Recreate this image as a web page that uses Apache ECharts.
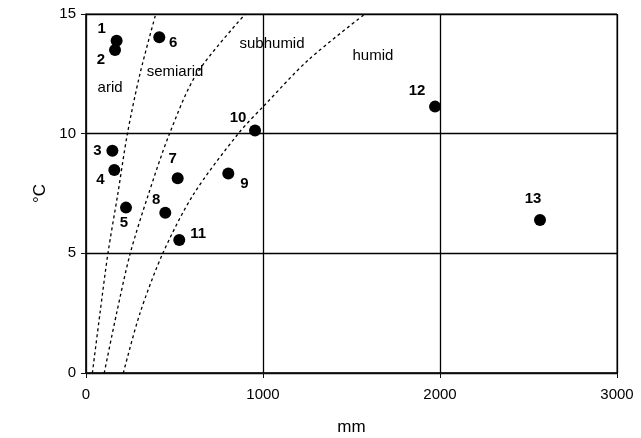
<!DOCTYPE html>
<html>
<head>
<meta charset="utf-8">
<script src="https://cdn.jsdelivr.net/npm/echarts@6/dist/echarts.min.js"></script>
<style>
  html, body { margin: 0; padding: 0; background: #fff; }
  #main { width: 641px; height: 438px; }
</style>
</head>
<body>
<div id="main"></div>
<script>
// site data: precipitation (mm) and temperature (°C)
var siteIds = ['1', '2', '3', '4', '5', '6', '7', '8', '9', '10', '11', '12', '13'];
var sitePrecip = [173, 164, 149, 160, 226, 414, 518, 448, 804, 955, 527, 1972, 2565];
var siteTemp = [13.88, 13.5, 9.29, 8.48, 6.91, 14.03, 8.14, 6.7, 8.34, 10.13, 5.56, 11.13, 6.39];

// aridity boundaries: [mm, °C]
var aridLine = [[36, 0], [79, 2.5], [124, 5], [179, 7.45], [234, 10], [305, 12.5], [394, 15]];
var semiaridLine = [[103, 0], [173, 2.5], [250, 5], [352, 7.45], [472, 10], [625, 12.5], [900, 15]];
var subhumidLine = [[211, 0], [305, 2.5], [434, 5], [606, 7.45], [860, 10], [1010, 11.2], [1256, 13.08], [1576, 15]];

// zone names and where they sit
var zoneNames = ['arid', 'semiarid', 'subhumid', 'humid'];
var zoneAt = [[136, 11.9], [503, 12.6], [1051, 13.75], [1621, 13.25]];

// label offsets for each site number (px)
var labelOffsets = [[-15, -12], [-14, 10], [-15, 0], [-14, 10], [-2, 15], [14, 6], [-5, -19],
    [-9, -13], [16, 10], [-17, -13], [19, -6], [-18, -16], [-7, -21]];

var font = 'Liberation Sans, Arial, sans-serif';

var siteData = [];
for (var i = 0; i < siteIds.length; i++) {
    siteData.push({
        value: [sitePrecip[i], siteTemp[i]],
        name: siteIds[i],
        label: { offset: labelOffsets[i] }
    });
}
var zoneData = [];
for (var j = 0; j < zoneNames.length; j++) {
    zoneData.push({ value: zoneAt[j], name: zoneNames[j] });
}

function dashed(data) {
    return {
        type: 'line',
        data: data,
        smooth: 0.3,
        symbol: 'none',
        silent: true,
        lineStyle: { color: '#000', width: 1.3, type: [3, 3] },
        z: 2
    };
}

var chart = echarts.init(document.getElementById('main'));

var option = {
    animation: false,
    backgroundColor: '#fff',
    grid: {
        left: 86, right: 24, top: 14, bottom: 65,
        outerBoundsMode: 'none',
        show: true, borderColor: '#111', borderWidth: 1
    },
    xAxis: {
        type: 'value', min: 0, max: 3000, interval: 1000,
        name: 'mm', nameLocation: 'middle', nameGap: 46,
        nameTextStyle: { color: '#000', fontSize: 17, fontFamily: font },
        axisLine: { show: true, onZero: false, lineStyle: { color: '#111', width: 1.5 } },
        axisTick: { show: true, length: 5, lineStyle: { color: '#111' } },
        axisLabel: { color: '#000', fontSize: 15, fontFamily: font, margin: 14,
            formatter: function (v) { return String(v); } },
        splitLine: { show: true, lineStyle: { color: '#000', width: 1.3 } }
    },
    yAxis: {
        type: 'value', min: 0, max: 15, interval: 5,
        name: '°C', nameLocation: 'middle', nameGap: 29, nameRotate: 90,
        nameTextStyle: { color: '#000', fontSize: 17, fontFamily: font },
        axisLine: { show: true, onZero: false, lineStyle: { color: '#111', width: 1.5 } },
        axisTick: { show: true, length: 5, lineStyle: { color: '#111' } },
        axisLabel: { color: '#000', fontSize: 15, fontFamily: font, margin: 10 },
        splitLine: { show: true, lineStyle: { color: '#000', width: 1.3 } }
    },
    series: [
        dashed(aridLine),
        dashed(semiaridLine),
        dashed(subhumidLine),
        {
            type: 'scatter',
            data: siteData,
            symbolSize: 12,
            itemStyle: { color: '#000', opacity: 1 },
            z: 4,
            label: {
                show: true,
                position: 'inside',
                formatter: '{b}',
                color: '#000',
                fontSize: 15,
                fontWeight: 'bold',
                fontFamily: font
            }
        },
        {
            type: 'scatter',
            data: zoneData,
            symbolSize: 0,
            silent: true,
            z: 3,
            itemStyle: { opacity: 1 },
            label: {
                show: true,
                position: 'inside',
                formatter: '{b}',
                color: '#000',
                fontSize: 15,
                fontFamily: font
            }
        }
    ]
};

chart.setOption(option);
</script>
</body>
</html>
